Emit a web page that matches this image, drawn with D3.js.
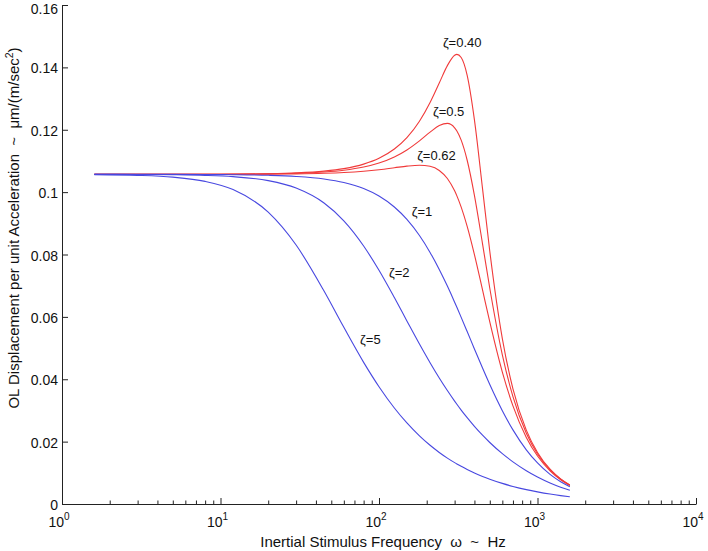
<!DOCTYPE html>
<html>
<head>
<meta charset="utf-8">
<script src="https://cdn.jsdelivr.net/npm/d3@7.9.0/dist/d3.min.js"></script>
<style>
  body { margin: 0; background: #fff; }
  svg { display: block; font-family: "Liberation Sans", Arial, Helvetica, sans-serif; }
  .axis path, .axis line { stroke: #222; }
  .axis text { fill: #111; }
  .title { white-space: pre; }
</style>
</head>
<body>
<div id="chart"></div>
<script>
const freqHz = [1.6, 3, 5, 8, 12, 20, 30, 45, 60, 80, 100, 125, 150, 180, 210, 240, 270, 300, 310, 330, 360, 400, 450, 500, 600, 700, 850, 1000, 1200, 1400, 1600];

// displacement per unit acceleration, one array per damping ratio
const zeta040 = [0.1057, 0.1057, 0.10571, 0.10573, 0.10577, 0.10590, 0.10616, 0.10673, 0.10753, 0.10898, 0.11085, 0.11381, 0.11746, 0.12271, 0.12872, 0.13499, 0.14056, 0.14387, 0.14416, 0.14317, 0.13745, 0.12318, 0.10114, 0.08103, 0.05304, 0.03692, 0.02368, 0.01652, 0.01115, 0.00805, 0.00609];
const zeta050 = [0.1057, 0.1057, 0.10571, 0.10572, 0.10575, 0.10585, 0.10603, 0.10645, 0.10703, 0.10805, 0.10934, 0.11128, 0.11353, 0.11644, 0.11922, 0.12133, 0.12204, 0.12063, 0.11960, 0.11666, 0.11022, 0.09893, 0.08343, 0.06917, 0.04783, 0.03441, 0.02266, 0.01603, 0.01093, 0.00794, 0.00603];
const zeta062 = [0.1057, 0.1057, 0.1057, 0.10571, 0.10572, 0.10577, 0.10585, 0.10604, 0.10629, 0.10671, 0.10719, 0.10781, 0.10834, 0.10864, 0.10829, 0.10695, 0.10436, 0.10041, 0.09880, 0.09520, 0.08902, 0.07998, 0.06864, 0.05836, 0.04230, 0.03146, 0.02136, 0.01538, 0.01063, 0.00778, 0.00594];
const zeta1 = [0.1057, 0.10569, 0.10568, 0.10565, 0.10559, 0.10540, 0.10503, 0.10422, 0.10309, 0.10115, 0.09875, 0.09523, 0.09125, 0.08608, 0.08067, 0.07522, 0.06987, 0.06472, 0.06306, 0.05985, 0.05529, 0.04972, 0.04359, 0.03831, 0.02992, 0.02377, 0.01738, 0.01315, 0.00950, 0.00715, 0.00556];
const zeta2 = [0.10569, 0.10565, 0.10557, 0.10537, 0.10496, 0.10368, 0.10130, 0.09650, 0.09080, 0.08273, 0.07493, 0.06618, 0.05871, 0.05131, 0.04532, 0.04042, 0.03638, 0.03299, 0.03198, 0.03012, 0.02767, 0.02489, 0.02205, 0.01972, 0.01614, 0.01352, 0.01068, 0.00866, 0.00675, 0.00539, 0.00440];
const zeta5 = [0.10561, 0.10537, 0.10480, 0.10344, 0.10081, 0.09358, 0.08303, 0.06828, 0.05664, 0.04542, 0.03761, 0.03079, 0.02599, 0.02185, 0.01883, 0.01653, 0.01472, 0.01327, 0.01284, 0.01207, 0.01107, 0.00996, 0.00885, 0.00796, 0.00661, 0.00564, 0.00461, 0.00389, 0.00319, 0.00269, 0.00231];

const seriesNames = ['ζ=0.40', 'ζ=0.5', 'ζ=0.62', 'ζ=1', 'ζ=2', 'ζ=5'];
const seriesValues = [zeta040, zeta050, zeta062, zeta1, zeta2, zeta5];
const seriesKind = ['under', 'under', 'under', 'over', 'over', 'over'];

// where each curve label sits, in data units [Hz, value]
const labelFreq = [253, 219, 174, 161, 115.5, 76];
const labelValue = [0.1465, 0.1244, 0.1103, 0.0923, 0.0728, 0.0513];

const xMajorTicks = [1, 10, 100, 1000, 10000];
const xExponents = ['0', '1', '2', '3', '4'];
const yTicks = [0, 0.02, 0.04, 0.06, 0.08, 0.1, 0.12, 0.14, 0.16];
const yTickLabels = ['0', '0.02', '0.04', '0.06', '0.08', '0.1', '0.12', '0.14', '0.16'];

const width = 708;
const height = 551;
const margin = { top: 5, right: 12, bottom: 47, left: 62 };

const color = { under: '#f03a3a', over: '#4848e0' };

const svg = d3.select('#chart')
  .append('svg')
  .attr('width', width)
  .attr('height', height);

const x = d3.scaleLog()
  .domain([1, 10000])
  .range([margin.left, width - margin.right]);

const y = d3.scaleLinear()
  .domain([0, 0.16])
  .range([height - margin.bottom, margin.top]);

// minor ticks 2..9 in each decade
const xMinorTicks = [];
for (let dec = 1; dec < 10000; dec *= 10) {
  for (let k = 2; k <= 9; k++) xMinorTicks.push(k * dec);
}

const line = d3.line()
  .x(d => x(d[0]))
  .y(d => y(d[1]))
  .curve(d3.curveMonotoneX);

svg.append('g')
  .attr('class', 'curves')
  .attr('fill', 'none')
  .selectAll('path')
  .data(seriesValues)
  .join('path')
  .attr('d', vals => line(freqHz.map((f, i) => [f, vals[i]])))
  .attr('stroke', (d, i) => color[seriesKind[i]])
  .attr('stroke-width', 1.1);

// x axis: minor ticks, then major ticks, labels drawn by hand for superscripts
const xAxisG = svg.append('g')
  .attr('class', 'axis')
  .attr('transform', `translate(0, ${y(0)})`);

xAxisG.append('g')
  .call(d3.axisBottom(x).tickValues(xMinorTicks).tickSize(-3.5).tickSizeOuter(0).tickFormat(''))
  .call(g => g.select('.domain').remove());

xAxisG.append('g')
  .call(d3.axisBottom(x).tickValues(xMajorTicks).tickSize(-6).tickSizeOuter(0).tickFormat(''));

const xLabels = xAxisG.selectAll('text.xlab')
  .data(xMajorTicks)
  .join('text')
  .attr('class', 'xlab')
  .attr('x', d => x(d) - 3)
  .attr('y', 23)
  .attr('text-anchor', 'middle')
  .attr('font-size', 14);
xLabels.append('tspan').text('10');
xLabels.append('tspan')
  .attr('dy', -7)
  .attr('font-size', 10)
  .text((d, i) => xExponents[i]);

// y axis
svg.append('g')
  .attr('class', 'axis')
  .attr('transform', `translate(${x(1)}, 0)`)
  .call(d3.axisLeft(y).tickValues(yTicks).tickSize(-6).tickSizeOuter(0).tickPadding(4)
    .tickFormat((d, i) => yTickLabels[i]))
  .call(g => g.selectAll('text')
    .attr('font-size', 14)
    .attr('dy', d => d === 0.16 ? '0.62em' : '0.4em'));

// curve labels
svg.append('g')
  .selectAll('text')
  .data(seriesNames)
  .join('text')
  .attr('x', (d, i) => x(labelFreq[i]))
  .attr('y', (d, i) => y(labelValue[i]))
  .attr('font-size', 13)
  .attr('fill', '#111')
  .text(d => d);

// axis titles
svg.append('text')
  .attr('class', 'title')
  .attr('x', (x(1) + x(10000)) / 2 + 4)
  .attr('y', 547)
  .attr('text-anchor', 'middle')
  .attr('font-size', 15)
  .attr('fill', '#111')
  .text('Inertial Stimulus Frequency  ω  ~  Hz');

const yTitle = svg.append('text')
  .attr('class', 'title')
  .attr('transform', `translate(19, 228) rotate(-90)`)
  .attr('text-anchor', 'middle')
  .attr('font-size', 15)
  .attr('fill', '#111');
yTitle.append('tspan').text('OL Displacement per unit Acceleration  ~  μm/(m/sec');
yTitle.append('tspan').attr('dy', -6).attr('font-size', 10.5).text('2');
yTitle.append('tspan').attr('dy', 6).text(')');
</script>
</body>
</html>
